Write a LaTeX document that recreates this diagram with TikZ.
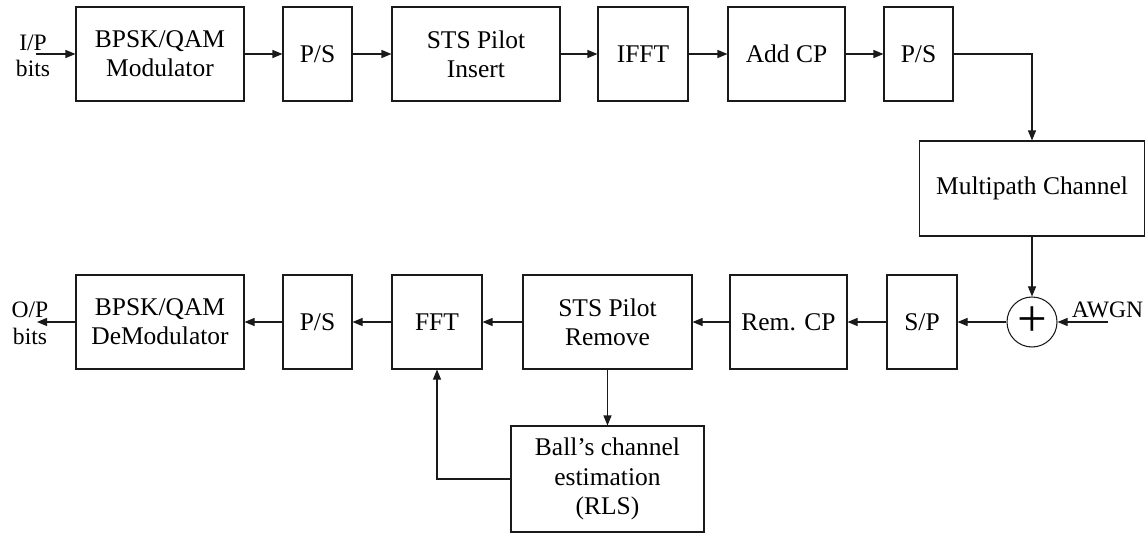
\documentclass[tikz,border=0pt]{standalone}
\usepackage{fontspec}
\setmainfont{Liberation Serif}
\usetikzlibrary{arrows.meta, positioning, calc}
\usepackage{xcolor}
\definecolor{linecol}{HTML}{1A1A1A}

\begin{document}
\begin{tikzpicture}[
  box/.style={draw=linecol, line width=0.6pt, minimum height=1.88cm, inner sep=0pt, align=center, font=\fontsize{14.5}{16.6}\selectfont},
  arrow/.style={-{Triangle[length=2mm, width=1.6mm]}, line width=0.6pt, draw=linecol},
  lbl/.style={align=center, inner sep=0pt, font=\fontsize{13.4}{15.2}\selectfont}
]
\useasboundingbox (0,0) rectangle (22.92,-10.66);

% transmitter
\node[box, minimum width=3.36cm] (mod) at (3.2,-1.08) {BPSK/QAM\\Modulator};
\node[box, minimum width=1.38cm] (ps1) at (6.35,-1.08) {P/S};
\node[box, minimum width=3.36cm] (ins) at (9.52,-1.08) {STS Pilot\\Insert};
\node[box, minimum width=1.8cm] (ifft) at (12.86,-1.08) {IFFT};
\node[box, minimum width=2.34cm] (addcp) at (15.73,-1.08) {Add CP};
\node[box, minimum width=1.38cm] (ps2) at (18.37,-1.08) {P/S};

% channel
\node[box, minimum width=4.5cm, minimum height=1.9cm] (chan) at (20.64,-3.77) {Multipath Channel};
\node[draw=linecol, line width=0.6pt, circle, minimum size=1cm, inner sep=0pt, font=\fontsize{30}{30}\selectfont] (sum) at (20.64,-6.44) {+};

% receiver
\node[box, minimum width=1.4cm] (sp) at (18.44,-6.44) {S/P};
\node[box, minimum width=2.34cm] (remcp) at (15.77,-6.44) {Rem. CP};
\node[box, minimum width=3.38cm] (rem) at (12.15,-6.44) {STS Pilot\\Remove};
\node[box, minimum width=1.8cm] (fft) at (8.74,-6.44) {FFT};
\node[box, minimum width=1.38cm] (ps3) at (6.35,-6.44) {P/S};
\node[box, minimum width=3.36cm] (demod) at (3.2,-6.44) {BPSK/QAM\\DeModulator};
\node[box, minimum width=3.86cm, minimum height=2.12cm] (est) at (12.15,-9.58) {Ball's channel\\estimation\\(RLS)};

% inputs and outputs
\node[lbl] (inp) at (0.66,-1.12) {I/P\\bits};
\coordinate (inarr) at (0.72,-1.08);
\node[lbl] (outp) at (0.6,-6.47) {O/P\\bits};
\coordinate (outarr) at (0.74,-6.44);
\node[lbl] (awgn) at (22.15,-6.2) {AWGN};
\coordinate (noise) at (22.16,-6.44);

\draw[arrow] (inarr) -- (mod);
\draw[arrow] (mod) -- (ps1);
\draw[arrow] (ps1) -- (ins);
\draw[arrow] (ins) -- (ifft);
\draw[arrow] (ifft) -- (addcp);
\draw[arrow] (addcp) -- (ps2);
\draw[arrow] (ps2) -| (chan);
\draw[arrow] (chan) -- (sum);
\draw[arrow] (noise) -- (sum);
\draw[arrow] (sum) -- (sp);
\draw[arrow] (sp) -- (remcp);
\draw[arrow] (remcp) -- (rem);
\draw[arrow] (rem) -- (fft);
\draw[arrow] (rem) -- (est);
\draw[arrow] (est) -| (fft);
\draw[arrow] (fft) -- (ps3);
\draw[arrow] (ps3) -- (demod);
\draw[arrow] (demod) -- (outarr);
\end{tikzpicture}
\end{document}
